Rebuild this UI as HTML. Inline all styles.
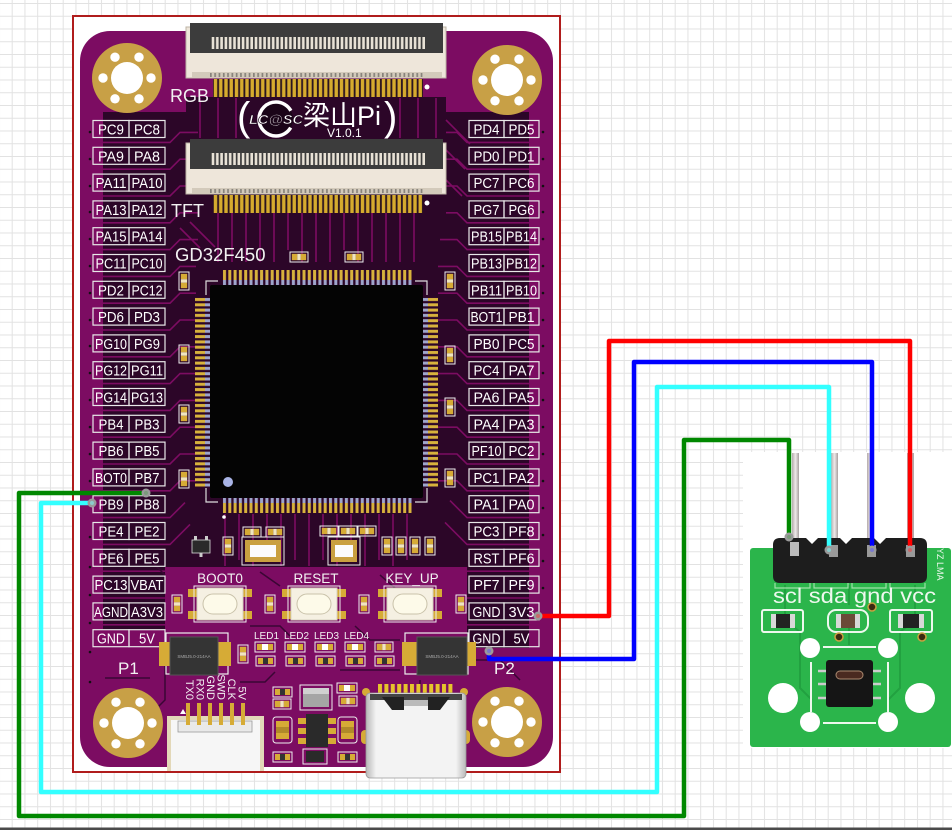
<!DOCTYPE html>
<html><head><meta charset="utf-8"><style>
html,body{margin:0;padding:0;background:#fff;}
svg{display:block;}
text{font-family:"Liberation Sans","Noto Sans CJK SC",sans-serif;}
.lb rect{fill:none;stroke:#e8e8e8;stroke-width:1.2}
.lb text{fill:#fff;font-size:14.5px;text-anchor:middle}
.tr{fill:none;stroke:#7c0c62;stroke-width:1.6}
.dk{fill:none;stroke:#3a0634;stroke-width:1.5}
.w{fill:#fff}
</style></head><body>
<svg width="952" height="830" viewBox="0 0 952 830" xmlns="http://www.w3.org/2000/svg">
<defs>
<pattern id="grid" x="11.7" y="3" width="12.75" height="12.75" patternUnits="userSpaceOnUse"><path d="M0.5 0V12.75M0 0.5H12.75" stroke="#e2e2e2" stroke-width="1" fill="none"/></pattern>
<pattern id="fp" x="213" y="0" width="5.25" height="300" patternUnits="userSpaceOnUse"><rect x="0.8" y="0" width="3.4" height="300" fill="#d6ab2e"/></pattern>
<pattern id="cb" x="210" y="0" width="4.3" height="300" patternUnits="userSpaceOnUse"><rect x="0" y="0" width="1.7" height="300" fill="#3b3b3b"/></pattern>
<pattern id="pt" x="222" y="270" width="5.3" height="15" patternUnits="userSpaceOnUse"><rect x="1" y="0" width="3" height="10" fill="#d8b23c"/><rect x="1" y="10" width="3" height="5" fill="#9ea6cc"/></pattern>
<pattern id="pb" x="222" y="498" width="5.3" height="15" patternUnits="userSpaceOnUse"><rect x="1" y="0" width="3" height="5" fill="#9ea6cc"/><rect x="1" y="5" width="3" height="10" fill="#d8b23c"/></pattern>
<pattern id="pl" x="195" y="297" width="15" height="5.3" patternUnits="userSpaceOnUse"><rect x="0" y="1" width="10" height="3" fill="#d8b23c"/><rect x="10" y="1" width="5" height="3" fill="#9ea6cc"/></pattern>
<pattern id="pr" x="423" y="297" width="15" height="5.3" patternUnits="userSpaceOnUse"><rect x="0" y="1" width="5" height="3" fill="#9ea6cc"/><rect x="5" y="1" width="10" height="3" fill="#d8b23c"/></pattern>
<pattern id="up" x="377" y="0" width="6.4" height="100" patternUnits="userSpaceOnUse"><rect x="1" y="0" width="4" height="100" fill="#e6c42c"/></pattern>
<linearGradient id="ug" x1="0" x2="1"><stop offset="0" stop-color="#b8b8b8"/><stop offset=".1" stop-color="#f3f3f3"/><stop offset=".9" stop-color="#f3f3f3"/><stop offset="1" stop-color="#b8b8b8"/></linearGradient>
<linearGradient id="pin" x1="0" x2="1"><stop offset="0" stop-color="#b5abab"/><stop offset=".5" stop-color="#efeaea"/><stop offset="1" stop-color="#a79f9f"/></linearGradient>
<g id="hole"><circle r="35" fill="#c8a046"/><circle r="16" fill="#fff"/><circle cx="24" cy="0" r="4.7" fill="#fff"/><circle cx="12" cy="20.8" r="4.7" fill="#fff"/><circle cx="-12" cy="20.8" r="4.7" fill="#fff"/><circle cx="-24" cy="0" r="4.7" fill="#fff"/><circle cx="-12" cy="-20.8" r="4.7" fill="#fff"/><circle cx="12" cy="-20.8" r="4.7" fill="#fff"/></g>
<g id="cv"><rect x="0" y="0" width="10" height="18" fill="none" stroke="#eee" stroke-width="1"/><rect x="1.8" y="1.8" width="6.4" height="5.5" fill="#d6ab36"/><rect x="1.8" y="10.7" width="6.4" height="5.5" fill="#d6ab36"/><rect x="1.8" y="7.3" width="6.4" height="3.4" fill="#f0e6c0"/></g>
<g id="ch"><rect x="0" y="0" width="18" height="10" fill="none" stroke="#eee" stroke-width="1"/><rect x="1.8" y="1.8" width="5.5" height="6.4" fill="#d6ab36"/><rect x="10.7" y="1.8" width="5.5" height="6.4" fill="#d6ab36"/><rect x="7.3" y="1.8" width="3.4" height="6.4" fill="#f0e6c0"/></g>
<g id="cd"><rect x="0" y="0" width="19" height="10" fill="none" stroke="#eee" stroke-width="1"/><rect x="2" y="2" width="5" height="6" fill="#d6ab36"/><rect x="12" y="2" width="5" height="6" fill="#d6ab36"/><rect x="7" y="2" width="5" height="6" fill="#333"/></g>
<g id="led"><rect x="0" y="0" width="20" height="10" fill="none" stroke="#eee" stroke-width="1"/><rect x="2" y="2" width="5" height="6" fill="#d6ab36"/><rect x="13" y="2" width="5" height="6" fill="#d6ab36"/><rect x="7" y="2" width="6" height="6" fill="#fff"/></g>
<g id="btn"><rect x="-32" y="-15" width="9" height="8" fill="#d6ab36"/><rect x="23" y="-15" width="9" height="8" fill="#d6ab36"/><rect x="-32" y="7" width="9" height="8" fill="#d6ab36"/><rect x="23" y="7" width="9" height="8" fill="#d6ab36"/><rect x="-26" y="-18" width="52" height="36" fill="none" stroke="#eee" stroke-width="1"/><rect x="-23" y="-16" width="46" height="32" fill="#f5f0e2" stroke="#d8d2c0"/><rect x="-17" y="-10" width="34" height="20" rx="10" fill="#fdfae9" stroke="#c9c2aa" stroke-width="1"/></g>
</defs>

<!-- background grid -->
<rect x="0" y="0" width="952" height="830" fill="#fff"/>
<rect x="0" y="0" width="952" height="830" fill="url(#grid)"/>

<!-- frame -->
<rect x="73" y="16" width="487" height="756" fill="#fff" stroke="#b01c1c" stroke-width="2"/>

<!-- board -->
<rect x="80" y="31" width="473" height="736" rx="30" fill="#7c0c62"/>
<path d="M103,112 H186 V97 H446 V112 H529 V648 H467 V567 H165 V630 H103 Z" fill="#2c0628"/>

<!-- traces -->
<path class="tr" d="M103,142.4H170L180,132.4H198 M103,169.2H170L180,159.2H198 M103,196H170L180,186H198 M103,222.8H170L180,212.8H198 M103,249.6H170L180,239.6H198 M103,276.4H170L180,266.4H196 M103,303.2H170L180,293.2H196 M103,330H170L180,320H196 M103,356.8H170L180,346.8H196 M103,383.6H170L180,373.6H196 M103,410.4H170L180,400.4H196 M103,437.2H170L180,427.2H196 M103,464H170L180,454H196 M103,490.8H170L180,480.8H196 M103,517.6H170L185,502.6 M103,544.4H170L190,524.4 M103,571.2H165 M103,598H165 M103,624.8H165"/>
<path class="tr" d="M529,142.4H467L457,132.4H446 M529,169.2H467L457,159.2H446 M529,196H467L457,186H446 M529,222.8H467L457,212.8H446 M529,249.6H467L457,239.6H440 M529,276.4H467L457,266.4H438 M529,303.2H467L457,293.2H438 M529,330H467L457,320H438 M529,356.8H467L457,346.8H438 M529,383.6H467L457,373.6H438 M529,410.4H467L457,400.4H438 M529,437.2H467L457,427.2H438 M529,464H467L457,454H438 M529,490.8H467L457,480.8H438 M529,517.6H467L450,500.6 M529,544.4H467L445,522.4 M529,571.2H467 M529,598H467 M529,624.8H467"/>
<path class="tr" d="M218,213V262 M232,213V262 M246,213V262 M260,213V262 M274,213V262 M288,213V250 M302,213V262 M316,213V262 M330,213V262 M344,213V250 M358,213V262 M372,213V262 M386,213V262 M400,213V262 M414,213V262 M225,514V566 M239,514V560 M253,514V566 M267,514V560 M281,514V566 M295,514V560 M309,514V566 M323,514V560 M337,514V566 M351,514V560 M365,514V566 M379,514V560 M393,514V566 M407,514V560 M200,98V138 M218,98V138 M236,98V138 M400,98V138 M418,98V138 M436,98V138 M446,120L470,144 M446,150L465,169 M446,180L462,196 M180,228L200,248 M190,222L215,247"/>
<path class="dk" d="M165,640V700L150,715 M250,626H280L290,636 M355,626L370,640H400 M240,682H265L275,672 M340,670H400 M420,680V700 M105,678H150 M470,660H500L520,680 M150,560L165,575 M260,572L280,586 M380,575L395,588 M110,700L135,690"/>

<!-- mounting holes -->
<use href="#hole" x="127" y="78"/>
<use href="#hole" x="507" y="80"/>
<use href="#hole" x="128" y="723"/>
<use href="#hole" x="507" y="722"/>

<!-- RGB connector -->
<rect x="186" y="27" width="260" height="51" fill="#eee6da" stroke="#bdb4a6"/>
<rect x="190" y="23" width="253" height="30" fill="#3c3c3c"/>
<rect x="210" y="37" width="215" height="12" fill="#e8e2d6"/>
<rect x="210" y="37" width="215" height="12" fill="url(#cb)"/>
<rect x="192" y="72" width="250" height="6" fill="#d3cabb"/>
<rect x="210" y="73" width="215" height="4" fill="url(#cb)" opacity=".5"/>
<rect x="213" y="79" width="210" height="18" fill="#2a1420"/>
<rect x="213" y="79" width="210" height="18" fill="url(#fp)"/>
<circle cx="427" cy="87" r="2.5" class="w"/>
<!-- TFT connector -->
<rect x="186" y="143" width="260" height="51" fill="#eee6da" stroke="#bdb4a6"/>
<rect x="190" y="139" width="253" height="30" fill="#3c3c3c"/>
<rect x="210" y="153" width="215" height="12" fill="#e8e2d6"/>
<rect x="210" y="153" width="215" height="12" fill="url(#cb)"/>
<rect x="192" y="188" width="250" height="6" fill="#d3cabb"/>
<rect x="210" y="189" width="215" height="4" fill="url(#cb)" opacity=".5"/>
<rect x="213" y="195" width="210" height="18" fill="#2a1420"/>
<rect x="213" y="195" width="210" height="18" fill="url(#fp)"/>
<circle cx="427" cy="203" r="2.5" class="w"/>

<text x="170" y="102" font-size="18" fill="#f2f2f2">RGB</text>
<text x="171" y="217" font-size="18" fill="#f2f2f2">TFT</text>

<!-- logo -->
<text x="237" y="130" font-size="40" fill="#fff">(</text>
<circle cx="276" cy="119" r="17" fill="#1a0418" stroke="#fff" stroke-width="3.5" stroke-dasharray="0 9 89 9"/>
<text x="249" y="124" font-size="13" font-weight="bold" font-style="italic" fill="#fff" stroke="#1a0418" stroke-width="0.6" textLength="54" lengthAdjust="spacingAndGlyphs">LC@SC</text>
<text x="303" y="125" font-size="27" fill="#fff">梁山Pi</text>
<text x="384" y="130" font-size="40" fill="#fff">)</text>
<text x="327" y="137" font-size="12" fill="#fff">V1.0.1</text>

<text x="175" y="261" font-size="18.5" fill="#f2f2f2">GD32F450</text>

<!-- MCU -->
<rect x="222" y="270" width="191" height="15" fill="url(#pt)"/>
<rect x="222" y="498" width="191" height="15" fill="url(#pb)"/>
<rect x="195" y="297" width="15" height="191" fill="url(#pl)"/>
<rect x="423" y="297" width="15" height="191" fill="url(#pr)"/>
<rect x="210" y="285" width="213" height="213" rx="2" fill="#040404"/>
<path d="M206,295V281H218 M427,295V281H415 M206,488V502H218 M427,488V502H415" fill="none" stroke="#ddd" stroke-width="1.2"/>
<circle cx="228" cy="482" r="5" fill="#a9b4e6"/>
<circle cx="224" cy="517" r="1.8" class="w"/>

<!-- caps around MCU -->
<use href="#ch" x="290" y="252"/><use href="#ch" x="345" y="252"/>
<use href="#cv" x="179" y="272"/><use href="#cv" x="179" y="345"/><use href="#cv" x="179" y="405"/><use href="#cv" x="179" y="470"/>
<use href="#cv" x="445" y="272"/><use href="#cv" x="445" y="346"/><use href="#cv" x="445" y="398"/><use href="#cv" x="445" y="469"/>

<!-- left labels -->
<g class="lb">
<g transform="translate(0,129)"><rect x="93" y="-8.5" width="36" height="17"/><rect x="129" y="-8.5" width="36" height="17"/><text x="111" y="5.5" textLength="26" lengthAdjust="spacingAndGlyphs">PC9</text><text x="147" y="5.5" textLength="26" lengthAdjust="spacingAndGlyphs">PC8</text></g>
<g transform="translate(0,155.8)"><rect x="93" y="-8.5" width="36" height="17"/><rect x="129" y="-8.5" width="36" height="17"/><text x="111" y="5.5" textLength="26" lengthAdjust="spacingAndGlyphs">PA9</text><text x="147" y="5.5" textLength="26" lengthAdjust="spacingAndGlyphs">PA8</text></g>
<g transform="translate(0,182.6)"><rect x="93" y="-8.5" width="36" height="17"/><rect x="129" y="-8.5" width="36" height="17"/><text x="111" y="5.5" textLength="31" lengthAdjust="spacingAndGlyphs">PA11</text><text x="147" y="5.5" textLength="31" lengthAdjust="spacingAndGlyphs">PA10</text></g>
<g transform="translate(0,209.4)"><rect x="93" y="-8.5" width="36" height="17"/><rect x="129" y="-8.5" width="36" height="17"/><text x="111" y="5.5" textLength="31" lengthAdjust="spacingAndGlyphs">PA13</text><text x="147" y="5.5" textLength="31" lengthAdjust="spacingAndGlyphs">PA12</text></g>
<g transform="translate(0,236.2)"><rect x="93" y="-8.5" width="36" height="17"/><rect x="129" y="-8.5" width="36" height="17"/><text x="111" y="5.5" textLength="31" lengthAdjust="spacingAndGlyphs">PA15</text><text x="147" y="5.5" textLength="31" lengthAdjust="spacingAndGlyphs">PA14</text></g>
<g transform="translate(0,263)"><rect x="93" y="-8.5" width="36" height="17"/><rect x="129" y="-8.5" width="36" height="17"/><text x="111" y="5.5" textLength="31" lengthAdjust="spacingAndGlyphs">PC11</text><text x="147" y="5.5" textLength="31" lengthAdjust="spacingAndGlyphs">PC10</text></g>
<g transform="translate(0,289.8)"><rect x="93" y="-8.5" width="36" height="17"/><rect x="129" y="-8.5" width="36" height="17"/><text x="111" y="5.5" textLength="26" lengthAdjust="spacingAndGlyphs">PD2</text><text x="147" y="5.5" textLength="31" lengthAdjust="spacingAndGlyphs">PC12</text></g>
<g transform="translate(0,316.6)"><rect x="93" y="-8.5" width="36" height="17"/><rect x="129" y="-8.5" width="36" height="17"/><text x="111" y="5.5" textLength="26" lengthAdjust="spacingAndGlyphs">PD6</text><text x="147" y="5.5" textLength="26" lengthAdjust="spacingAndGlyphs">PD3</text></g>
<g transform="translate(0,343.4)"><rect x="93" y="-8.5" width="36" height="17"/><rect x="129" y="-8.5" width="36" height="17"/><text x="111" y="5.5" textLength="32" lengthAdjust="spacingAndGlyphs">PG10</text><text x="147" y="5.5" textLength="26" lengthAdjust="spacingAndGlyphs">PG9</text></g>
<g transform="translate(0,370.2)"><rect x="93" y="-8.5" width="36" height="17"/><rect x="129" y="-8.5" width="36" height="17"/><text x="111" y="5.5" textLength="32" lengthAdjust="spacingAndGlyphs">PG12</text><text x="147" y="5.5" textLength="32" lengthAdjust="spacingAndGlyphs">PG11</text></g>
<g transform="translate(0,397)"><rect x="93" y="-8.5" width="36" height="17"/><rect x="129" y="-8.5" width="36" height="17"/><text x="111" y="5.5" textLength="32" lengthAdjust="spacingAndGlyphs">PG14</text><text x="147" y="5.5" textLength="32" lengthAdjust="spacingAndGlyphs">PG13</text></g>
<g transform="translate(0,423.8)"><rect x="93" y="-8.5" width="36" height="17"/><rect x="129" y="-8.5" width="36" height="17"/><text x="111" y="5.5" textLength="25" lengthAdjust="spacingAndGlyphs">PB4</text><text x="147" y="5.5" textLength="25" lengthAdjust="spacingAndGlyphs">PB3</text></g>
<g transform="translate(0,450.6)"><rect x="93" y="-8.5" width="36" height="17"/><rect x="129" y="-8.5" width="36" height="17"/><text x="111" y="5.5" textLength="25" lengthAdjust="spacingAndGlyphs">PB6</text><text x="147" y="5.5" textLength="25" lengthAdjust="spacingAndGlyphs">PB5</text></g>
<g transform="translate(0,477.4)"><rect x="93" y="-8.5" width="36" height="17"/><rect x="129" y="-8.5" width="36" height="17"/><text x="111" y="5.5" textLength="32" lengthAdjust="spacingAndGlyphs">BOT0</text><text x="147" y="5.5" textLength="25" lengthAdjust="spacingAndGlyphs">PB7</text></g>
<g transform="translate(0,504.2)"><rect x="93" y="-8.5" width="36" height="17"/><rect x="129" y="-8.5" width="36" height="17"/><text x="111" y="5.5" textLength="25" lengthAdjust="spacingAndGlyphs">PB9</text><text x="147" y="5.5" textLength="25" lengthAdjust="spacingAndGlyphs">PB8</text></g>
<g transform="translate(0,531)"><rect x="93" y="-8.5" width="36" height="17"/><rect x="129" y="-8.5" width="36" height="17"/><text x="111" y="5.5" textLength="25" lengthAdjust="spacingAndGlyphs">PE4</text><text x="147" y="5.5" textLength="25" lengthAdjust="spacingAndGlyphs">PE2</text></g>
<g transform="translate(0,557.8)"><rect x="93" y="-8.5" width="36" height="17"/><rect x="129" y="-8.5" width="36" height="17"/><text x="111" y="5.5" textLength="25" lengthAdjust="spacingAndGlyphs">PE6</text><text x="147" y="5.5" textLength="25" lengthAdjust="spacingAndGlyphs">PE5</text></g>
<g transform="translate(0,584.6)"><rect x="93" y="-8.5" width="36" height="17"/><rect x="129" y="-8.5" width="36" height="17"/><text x="111" y="5.5" textLength="33" lengthAdjust="spacingAndGlyphs">PC13</text><text x="147" y="5.5" textLength="33" lengthAdjust="spacingAndGlyphs">VBAT</text></g>
<g transform="translate(0,611.4)"><rect x="93" y="-8.5" width="36" height="17"/><rect x="129" y="-8.5" width="36" height="17"/><text x="111" y="5.5" textLength="34" lengthAdjust="spacingAndGlyphs">AGND</text><text x="147" y="5.5" textLength="32" lengthAdjust="spacingAndGlyphs">A3V3</text></g>
<g transform="translate(0,638.2)"><rect x="93" y="-8.5" width="36" height="17"/><rect x="129" y="-8.5" width="36" height="17"/><text x="111" y="5.5" textLength="28" lengthAdjust="spacingAndGlyphs">GND</text><text x="147" y="5.5" textLength="16" lengthAdjust="spacingAndGlyphs">5V</text></g>
</g>

<!-- right labels -->
<g class="lb">
<g transform="translate(0,129)"><rect x="469" y="-8.5" width="35" height="17"/><rect x="504" y="-8.5" width="35" height="17"/><text x="486.5" y="5.5" textLength="26" lengthAdjust="spacingAndGlyphs">PD4</text><text x="521.5" y="5.5" textLength="26" lengthAdjust="spacingAndGlyphs">PD5</text></g>
<g transform="translate(0,155.8)"><rect x="469" y="-8.5" width="35" height="17"/><rect x="504" y="-8.5" width="35" height="17"/><text x="486.5" y="5.5" textLength="26" lengthAdjust="spacingAndGlyphs">PD0</text><text x="521.5" y="5.5" textLength="26" lengthAdjust="spacingAndGlyphs">PD1</text></g>
<g transform="translate(0,182.6)"><rect x="469" y="-8.5" width="35" height="17"/><rect x="504" y="-8.5" width="35" height="17"/><text x="486.5" y="5.5" textLength="26" lengthAdjust="spacingAndGlyphs">PC7</text><text x="521.5" y="5.5" textLength="26" lengthAdjust="spacingAndGlyphs">PC6</text></g>
<g transform="translate(0,209.4)"><rect x="469" y="-8.5" width="35" height="17"/><rect x="504" y="-8.5" width="35" height="17"/><text x="486.5" y="5.5" textLength="26" lengthAdjust="spacingAndGlyphs">PG7</text><text x="521.5" y="5.5" textLength="26" lengthAdjust="spacingAndGlyphs">PG6</text></g>
<g transform="translate(0,236.2)"><rect x="469" y="-8.5" width="35" height="17"/><rect x="504" y="-8.5" width="35" height="17"/><text x="486.5" y="5.5" textLength="31" lengthAdjust="spacingAndGlyphs">PB15</text><text x="521.5" y="5.5" textLength="31" lengthAdjust="spacingAndGlyphs">PB14</text></g>
<g transform="translate(0,263)"><rect x="469" y="-8.5" width="35" height="17"/><rect x="504" y="-8.5" width="35" height="17"/><text x="486.5" y="5.5" textLength="31" lengthAdjust="spacingAndGlyphs">PB13</text><text x="521.5" y="5.5" textLength="31" lengthAdjust="spacingAndGlyphs">PB12</text></g>
<g transform="translate(0,289.8)"><rect x="469" y="-8.5" width="35" height="17"/><rect x="504" y="-8.5" width="35" height="17"/><text x="486.5" y="5.5" textLength="31" lengthAdjust="spacingAndGlyphs">PB11</text><text x="521.5" y="5.5" textLength="31" lengthAdjust="spacingAndGlyphs">PB10</text></g>
<g transform="translate(0,316.6)"><rect x="469" y="-8.5" width="35" height="17"/><rect x="504" y="-8.5" width="35" height="17"/><text x="486.5" y="5.5" textLength="32" lengthAdjust="spacingAndGlyphs">BOT1</text><text x="521.5" y="5.5" textLength="26" lengthAdjust="spacingAndGlyphs">PB1</text></g>
<g transform="translate(0,343.4)"><rect x="469" y="-8.5" width="35" height="17"/><rect x="504" y="-8.5" width="35" height="17"/><text x="486.5" y="5.5" textLength="26" lengthAdjust="spacingAndGlyphs">PB0</text><text x="521.5" y="5.5" textLength="26" lengthAdjust="spacingAndGlyphs">PC5</text></g>
<g transform="translate(0,370.2)"><rect x="469" y="-8.5" width="35" height="17"/><rect x="504" y="-8.5" width="35" height="17"/><text x="486.5" y="5.5" textLength="26" lengthAdjust="spacingAndGlyphs">PC4</text><text x="521.5" y="5.5" textLength="26" lengthAdjust="spacingAndGlyphs">PA7</text></g>
<g transform="translate(0,397)"><rect x="469" y="-8.5" width="35" height="17"/><rect x="504" y="-8.5" width="35" height="17"/><text x="486.5" y="5.5" textLength="26" lengthAdjust="spacingAndGlyphs">PA6</text><text x="521.5" y="5.5" textLength="26" lengthAdjust="spacingAndGlyphs">PA5</text></g>
<g transform="translate(0,423.8)"><rect x="469" y="-8.5" width="35" height="17"/><rect x="504" y="-8.5" width="35" height="17"/><text x="486.5" y="5.5" textLength="26" lengthAdjust="spacingAndGlyphs">PA4</text><text x="521.5" y="5.5" textLength="26" lengthAdjust="spacingAndGlyphs">PA3</text></g>
<g transform="translate(0,450.6)"><rect x="469" y="-8.5" width="35" height="17"/><rect x="504" y="-8.5" width="35" height="17"/><text x="486.5" y="5.5" textLength="30" lengthAdjust="spacingAndGlyphs">PF10</text><text x="521.5" y="5.5" textLength="26" lengthAdjust="spacingAndGlyphs">PC2</text></g>
<g transform="translate(0,477.4)"><rect x="469" y="-8.5" width="35" height="17"/><rect x="504" y="-8.5" width="35" height="17"/><text x="486.5" y="5.5" textLength="26" lengthAdjust="spacingAndGlyphs">PC1</text><text x="521.5" y="5.5" textLength="26" lengthAdjust="spacingAndGlyphs">PA2</text></g>
<g transform="translate(0,504.2)"><rect x="469" y="-8.5" width="35" height="17"/><rect x="504" y="-8.5" width="35" height="17"/><text x="486.5" y="5.5" textLength="26" lengthAdjust="spacingAndGlyphs">PA1</text><text x="521.5" y="5.5" textLength="26" lengthAdjust="spacingAndGlyphs">PA0</text></g>
<g transform="translate(0,531)"><rect x="469" y="-8.5" width="35" height="17"/><rect x="504" y="-8.5" width="35" height="17"/><text x="486.5" y="5.5" textLength="26" lengthAdjust="spacingAndGlyphs">PC3</text><text x="521.5" y="5.5" textLength="26" lengthAdjust="spacingAndGlyphs">PF8</text></g>
<g transform="translate(0,557.8)"><rect x="469" y="-8.5" width="35" height="17"/><rect x="504" y="-8.5" width="35" height="17"/><text x="486.5" y="5.5" textLength="26" lengthAdjust="spacingAndGlyphs">RST</text><text x="521.5" y="5.5" textLength="26" lengthAdjust="spacingAndGlyphs">PF6</text></g>
<g transform="translate(0,584.6)"><rect x="469" y="-8.5" width="35" height="17"/><rect x="504" y="-8.5" width="35" height="17"/><text x="486.5" y="5.5" textLength="26" lengthAdjust="spacingAndGlyphs">PF7</text><text x="521.5" y="5.5" textLength="26" lengthAdjust="spacingAndGlyphs">PF9</text></g>
<g transform="translate(0,611.4)"><rect x="469" y="-8.5" width="35" height="17"/><rect x="504" y="-8.5" width="35" height="17"/><text x="486.5" y="5.5" textLength="28" lengthAdjust="spacingAndGlyphs">GND</text><text x="521.5" y="5.5" textLength="26" lengthAdjust="spacingAndGlyphs">3V3</text></g>
<g transform="translate(0,638.2)"><rect x="469" y="-8.5" width="35" height="17"/><rect x="504" y="-8.5" width="35" height="17"/><text x="486.5" y="5.5" textLength="28" lengthAdjust="spacingAndGlyphs">GND</text><text x="521.5" y="5.5" textLength="16" lengthAdjust="spacingAndGlyphs">5V</text></g>
</g>

<!-- edge dots -->
<g fill="#111">
<circle cx="90" cy="132" r="1.3"/><circle cx="90" cy="159" r="1.3"/><circle cx="90" cy="186" r="1.3"/><circle cx="90" cy="212" r="1.3"/><circle cx="90" cy="239" r="1.3"/><circle cx="90" cy="266" r="1.3"/><circle cx="90" cy="293" r="1.3"/><circle cx="90" cy="320" r="1.3"/><circle cx="90" cy="346" r="1.3"/><circle cx="90" cy="373" r="1.3"/><circle cx="90" cy="400" r="1.3"/><circle cx="90" cy="427" r="1.3"/><circle cx="90" cy="454" r="1.3"/><circle cx="90" cy="481" r="1.3"/><circle cx="90" cy="537" r="1.3"/><circle cx="90" cy="567" r="1.3"/><circle cx="90" cy="595" r="1.3"/><circle cx="90" cy="623" r="1.3"/><circle cx="90" cy="652" r="1.3"/><circle cx="90" cy="682" r="1.3"/>
<circle cx="543" cy="132" r="1.3"/><circle cx="543" cy="159" r="1.3"/><circle cx="543" cy="186" r="1.3"/><circle cx="543" cy="212" r="1.3"/><circle cx="543" cy="239" r="1.3"/><circle cx="543" cy="266" r="1.3"/><circle cx="543" cy="293" r="1.3"/><circle cx="543" cy="320" r="1.3"/><circle cx="543" cy="346" r="1.3"/><circle cx="543" cy="373" r="1.3"/><circle cx="543" cy="400" r="1.3"/><circle cx="543" cy="427" r="1.3"/><circle cx="543" cy="454" r="1.3"/><circle cx="543" cy="481" r="1.3"/><circle cx="543" cy="508" r="1.3"/><circle cx="543" cy="535" r="1.3"/><circle cx="543" cy="561" r="1.3"/><circle cx="543" cy="588" r="1.3"/>
</g>

<!-- lower components -->
<rect x="192" y="540" width="18" height="13" fill="#2a2a2a" stroke="#ddd" stroke-width=".8"/>
<rect x="194" y="536" width="3" height="4" fill="#ccc"/><rect x="205" y="536" width="3" height="4" fill="#ccc"/><rect x="199.5" y="553" width="3" height="4" fill="#ccc"/>
<use href="#cv" x="223" y="537"/>
<use href="#ch" x="243" y="527"/><use href="#ch" x="266" y="527"/>
<rect x="242" y="537" width="42" height="28" fill="none" stroke="#eee" stroke-width="1"/>
<rect x="245" y="540" width="36" height="22" fill="#c9a040"/>
<rect x="250" y="545" width="26" height="12" fill="#fbfbfb"/>
<use href="#ch" x="320" y="526"/><use href="#ch" x="339" y="526"/><use href="#ch" x="358" y="526"/>
<rect x="328" y="537" width="32" height="28" fill="none" stroke="#eee" stroke-width="1"/>
<rect x="331" y="540" width="26" height="22" fill="#c9a040"/>
<rect x="335" y="545" width="18" height="12" fill="#fbfbfb"/>
<use href="#cv" x="382" y="537"/><use href="#cv" x="396" y="537"/><use href="#cv" x="410" y="537"/><use href="#cv" x="425" y="537"/>

<use href="#cv" x="172" y="595"/><use href="#cv" x="265" y="595"/><use href="#cv" x="359" y="595"/><use href="#cv" x="456" y="595"/>

<text x="220" y="583" font-size="13.5" fill="#f2f2f2" text-anchor="middle">BOOT0</text>
<text x="316" y="583" font-size="13.5" fill="#f2f2f2" text-anchor="middle">RESET</text>
<text x="412" y="583" font-size="13.5" fill="#f2f2f2" text-anchor="middle">KEY_UP</text>
<use href="#btn" x="220" y="604"/>
<use href="#btn" x="314" y="604"/>
<use href="#btn" x="410" y="604"/>

<!-- diodes -->
<rect x="166" y="633" width="62" height="41" fill="none" stroke="#eee" stroke-width="1.2"/>
<rect x="159" y="642" width="13" height="24" fill="#d6ab36"/><rect x="216" y="642" width="15" height="24" fill="#d6ab36"/>
<rect x="170" y="637" width="48" height="38" fill="#343434" stroke="#555"/>
<text x="194" y="658" font-size="4.5" fill="#aaa" text-anchor="middle">SMBJ5.0-214AA</text>
<rect x="405" y="633" width="63" height="41" fill="none" stroke="#eee" stroke-width="1.2"/>
<rect x="402" y="642" width="16" height="24" fill="#d6ab36"/><rect x="465" y="642" width="11" height="24" fill="#d6ab36"/>
<rect x="417" y="637" width="50" height="38" fill="#343434" stroke="#555"/>
<text x="442" y="658" font-size="4.5" fill="#aaa" text-anchor="middle">SMBJ5.0-214AA</text>

<use href="#cv" x="238" y="645"/>
<text x="254" y="639" font-size="10.5" fill="#f2f2f2" textLength="25" lengthAdjust="spacingAndGlyphs">LED1</text>
<text x="284" y="639" font-size="10.5" fill="#f2f2f2" textLength="25" lengthAdjust="spacingAndGlyphs">LED2</text>
<text x="314" y="639" font-size="10.5" fill="#f2f2f2" textLength="25" lengthAdjust="spacingAndGlyphs">LED3</text>
<text x="344" y="639" font-size="10.5" fill="#f2f2f2" textLength="25" lengthAdjust="spacingAndGlyphs">LED4</text>
<use href="#led" x="255" y="642"/><use href="#led" x="285" y="642"/><use href="#led" x="315" y="642"/><use href="#led" x="345" y="642"/><use href="#ch" x="375" y="642"/>
<use href="#cd" x="256" y="656"/><use href="#cd" x="286" y="656"/><use href="#cd" x="316" y="656"/><use href="#cd" x="346" y="656"/><use href="#cd" x="375" y="656"/>

<text x="118" y="674" font-size="17" fill="#f2f2f2">P1</text>
<text x="494" y="674" font-size="17" fill="#f2f2f2">P2</text>

<!-- SWD labels -->
<g font-size="11" fill="#f2f2f2" text-anchor="end">
<text transform="translate(186,700) rotate(90)" text-anchor="end">TX0</text>
<text transform="translate(196.5,700) rotate(90)" text-anchor="end">RX0</text>
<text transform="translate(207,700) rotate(90)" text-anchor="end">GND</text>
<text transform="translate(217.5,700) rotate(90)" text-anchor="end">SWD</text>
<text transform="translate(228,700) rotate(90)" text-anchor="end">CLK</text>
<text transform="translate(238.5,700) rotate(90)" text-anchor="end">5V</text>
</g>
<!-- JST -->
<polygon points="180,714 183,709 186,714" fill="#fff"/>
<rect x="167" y="716" width="97" height="55" fill="#e3d8b8"/>
<rect x="171" y="720" width="89" height="51" fill="#f6f6f6"/>
<rect x="178" y="721" width="74" height="11" fill="#e9e9e9" stroke="#9a9a9a" stroke-width=".8"/>
<g fill="#d6ab36"><rect x="186" y="703" width="4" height="22"/><rect x="197" y="703" width="4" height="22"/><rect x="208" y="703" width="4" height="22"/><rect x="219" y="703" width="4" height="22"/><rect x="230" y="703" width="4" height="22"/><rect x="241" y="703" width="4" height="22"/></g>

<!-- small parts near USB -->
<use href="#cd" x="273" y="687"/><use href="#ch" x="273" y="699"/>
<rect x="273" y="717" width="19" height="26" rx="3" fill="none" stroke="#eee" stroke-width="1"/><rect x="276" y="721" width="13" height="18" fill="#d6ab36"/><rect x="276" y="727" width="13" height="6" fill="#b08a2a"/>
<use href="#cd" x="273" y="752"/>
<rect x="300" y="685" width="32" height="25" fill="none" stroke="#eee"/><rect x="303" y="688" width="26" height="19" fill="#a5a5a5"/><rect x="303" y="688" width="26" height="6" fill="#d0d0d0"/>
<g fill="#d6ab36"><rect x="298" y="718" width="8" height="6"/><rect x="298" y="728" width="8" height="6"/><rect x="298" y="738" width="8" height="6"/><rect x="328" y="718" width="8" height="6"/><rect x="328" y="728" width="8" height="6"/><rect x="328" y="738" width="8" height="6"/></g>
<rect x="306" y="714" width="22" height="33" fill="#2a2a2a"/>
<rect x="303" y="749" width="24" height="15" fill="none" stroke="#eee"/><rect x="306" y="751" width="18" height="11" fill="#2a2a2a"/>
<use href="#led" x="337" y="683"/><use href="#ch" x="339" y="696"/>
<rect x="338" y="717" width="19" height="26" rx="3" fill="none" stroke="#eee" stroke-width="1"/><rect x="341" y="721" width="13" height="18" fill="#d6ab36"/><rect x="341" y="727" width="13" height="6" fill="#b08a2a"/>
<use href="#cd" x="338" y="752"/>

<!-- USB-C -->
<circle cx="366" cy="692" r="4" fill="#d6ab36"/><circle cx="464" cy="692" r="4" fill="#d6ab36"/>
<rect x="361" y="730" width="8" height="14" rx="4" fill="#d6ab36"/><rect x="462" y="730" width="8" height="14" rx="4" fill="#d6ab36"/>
<rect x="377" y="684" width="77" height="12" fill="url(#up)"/>
<rect x="366" y="693" width="100" height="85" rx="4" fill="url(#ug)" stroke="#999" stroke-width=".8"/>
<rect x="370" y="694" width="92" height="6" fill="#444"/>
<path d="M382,697H404V710H392Z M450,697H428V710H440Z" fill="#222"/>
<rect x="404" y="700" width="24" height="6" fill="#bbb"/>

<!-- sensor module -->
<rect x="743" y="452" width="209" height="296" fill="#fff"/>
<rect x="792" y="453" width="7" height="95" fill="url(#pin)"/>
<rect x="831" y="453" width="7" height="95" fill="url(#pin)"/>
<rect x="867" y="453" width="7" height="95" fill="url(#pin)"/>
<rect x="907" y="453" width="7" height="95" fill="url(#pin)"/>
<rect x="750" y="548" width="201" height="199" rx="3" fill="#2bb54b"/>
<path d="M800,632V688L812,700 M900,632V688L888,700 M785,585V620L800,632 M915,585V620L900,632 M849,585V605 M849,625V645" fill="none" stroke="#22a140" stroke-width="2"/>
<path d="M773,545 q0,-7 7,-7 h26 l6,6 l6,-6 h22 l6,6 l6,-6 h22 l6,6 l6,-6 h34 q7,0 7,7 v31 q0,7 -7,7 h-140 q-7,0 -7,-7z" fill="#1d1d1d"/>
<rect x="790" y="542" width="9" height="14" fill="#bbb"/><rect x="829" y="545" width="9" height="12" fill="#999"/><rect x="867" y="545" width="9" height="12" fill="#999"/><rect x="906" y="545" width="9" height="12" fill="#999"/>
<path d="M775,583 V588 H810 V583 M814,583 V588 H848 V583 M852,583 V588 H886 V583 M890,583 V588 H925 V583" fill="none" stroke="#9fe0a8" stroke-width="1.2"/>
<text x="773" y="603" font-size="21" fill="#eef8ee" textLength="163" lengthAdjust="spacingAndGlyphs">scl sda gnd vcc</text>
<text transform="translate(937,548) rotate(90)" font-size="9" fill="#eef8ee">YZ LMA</text>
<rect x="762" y="610" width="41" height="22" rx="2" fill="none" stroke="#eef8ee" stroke-width="2"/>
<rect x="771" y="614" width="24" height="14" fill="#d8d8d8"/><rect x="776" y="614" width="14" height="14" fill="#222"/>
<rect x="828" y="610" width="40" height="22" rx="8" fill="none" stroke="#eef8ee" stroke-width="2"/>
<rect x="836" y="614" width="24" height="14" fill="#d8d8d8"/><rect x="841" y="614" width="14" height="14" fill="#6a4a38"/>
<rect x="890" y="610" width="42" height="22" rx="2" fill="none" stroke="#eef8ee" stroke-width="2"/>
<rect x="898" y="614" width="26" height="14" fill="#d8d8d8"/><rect x="903" y="614" width="16" height="14" fill="#222"/>
<circle cx="872" cy="607" r="4" fill="#3a2a10" stroke="#c9a040" stroke-width="1.5"/>
<circle cx="839" cy="637" r="4" fill="#3a2a10" stroke="#c9a040" stroke-width="1.5"/>
<circle cx="922" cy="637" r="4" fill="#3a2a10" stroke="#c9a040" stroke-width="1.5"/>
<path d="M823,647H876 M823,723H876 M811,662V712 M888,662V712" fill="none" stroke="#eef8ee" stroke-width="2"/>
<circle cx="810" cy="648" r="10" class="w"/><circle cx="888" cy="648" r="10" class="w"/>
<circle cx="810" cy="722" r="10" class="w"/><circle cx="888" cy="722" r="10" class="w"/>
<circle cx="783" cy="698" r="15" class="w"/><circle cx="920" cy="698" r="15" class="w"/>
<path d="M818,671H826 M818,684H826 M818,698H826 M873,671H881 M873,684H881 M873,698H881" stroke="#ccc" stroke-width="2.5"/>
<rect x="826" y="660" width="47" height="47" rx="3" fill="#151515"/>
<rect x="836" y="671" width="27" height="8" rx="4" fill="#4a2a20" stroke="#aa8a70"/>

<!-- wires -->
<g fill="none" stroke-width="4.5" stroke-linejoin="round">
<path d="M538,616 H609 V341 H910 V550" stroke="#ff0000"/>
<path d="M489,651 V659 H634 V362 H872 V550" stroke="#0000ff"/>
<path d="M92,503 H41 V792 H657 V387 H829 V550" stroke="#33ffff"/>
<path d="M146,493 H19 V816 H684 V440 H789 V537" stroke="#008800"/>
</g>
<!-- connection dots -->
<g>
<circle cx="538" cy="616" r="4.5" fill="#9a9a9a"/><circle cx="538" cy="616" r="2" fill="#c86a6a"/>
<circle cx="489" cy="651" r="4.5" fill="#9a9a9a"/><circle cx="489" cy="651" r="2" fill="#7a7acc"/>
<circle cx="92" cy="503" r="4.5" fill="#9a9a9a"/><circle cx="92" cy="503" r="2" fill="#8ccccc"/>
<circle cx="146" cy="493" r="4.5" fill="#9a9a9a"/><circle cx="146" cy="493" r="2" fill="#7a9a7a"/>
<circle cx="789" cy="537" r="4.5" fill="#9a9a9a"/><circle cx="789" cy="537" r="2" fill="#7a9a7a"/>
<circle cx="829" cy="550" r="4.5" fill="#9a9a9a"/><circle cx="829" cy="550" r="2" fill="#8ccccc"/>
<circle cx="872" cy="550" r="4.5" fill="#9a9a9a"/><circle cx="872" cy="550" r="2" fill="#7a7acc"/>
<circle cx="910" cy="550" r="4.5" fill="#9a9a9a"/><circle cx="910" cy="550" r="2" fill="#c86a6a"/>
</g>

<rect x="0" y="827.5" width="952" height="2.5" fill="#4a4a4a"/>
</svg>
</body></html>
